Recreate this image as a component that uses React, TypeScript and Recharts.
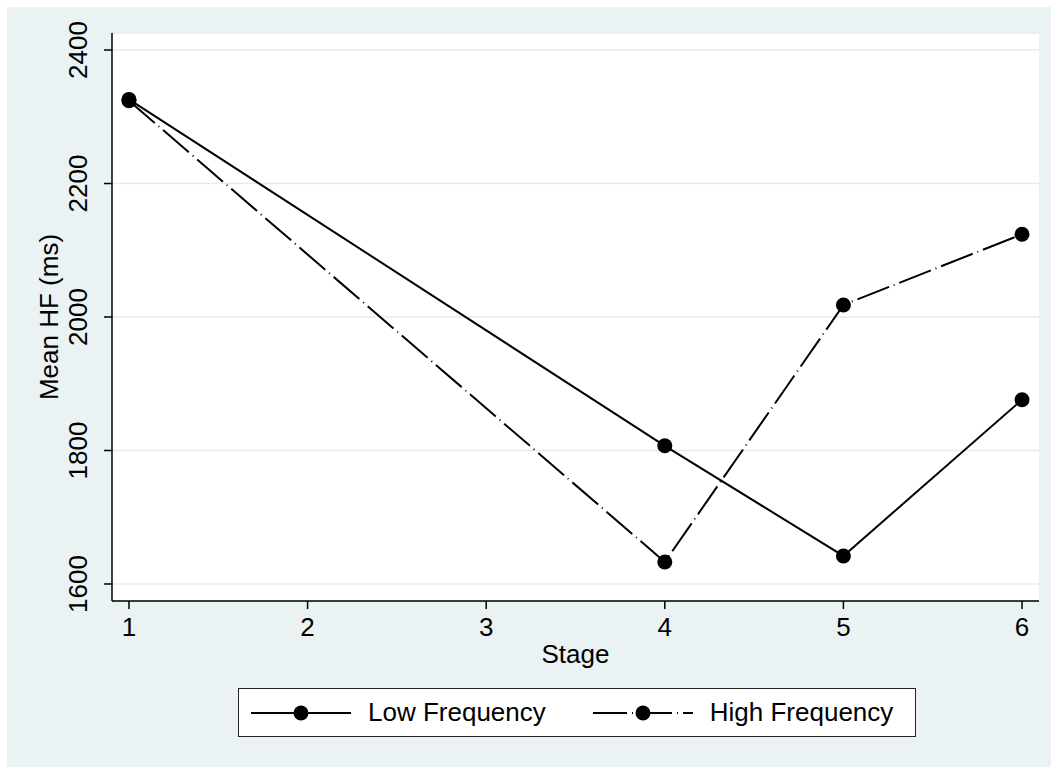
import { LineChart, Line, XAxis, YAxis, CartesianGrid } from "recharts";

const stages = [1, 4, 5, 6];
const lowFrequency = [2326, 1807, 1642, 1876];
const highFrequency = [2324, 1633, 2018, 2124];
const xTicks = [1, 2, 3, 4, 5, 6];
const yTicks = [1600, 1800, 2000, 2200, 2400];

const data = stages.map((stage, i) => ({
  stage,
  low: lowFrequency[i],
  high: highFrequency[i],
}));

const FONT = "'Liberation Sans', Arial, Helvetica, sans-serif";
const BG = "#EAF2F3";
const DASH = "34 5 1 5";

const YTick = ({ y, payload }: any) => (
  <text
    x={87}
    y={y}
    transform={`rotate(-90, 87, ${y})`}
    textAnchor="middle"
    fontSize={26}
    fontFamily={FONT}
    fill="#000"
  >
    {payload.value}
  </text>
);

const XTick = ({ x, payload }: any) => (
  <text
    x={x}
    y={636}
    textAnchor="middle"
    fontSize={26}
    fontFamily={FONT}
    fill="#000"
  >
    {payload.value}
  </text>
);

const Sample = ({ dash }: { dash?: string }) => (
  <svg width={102} height={20} style={{ display: "block" }}>
    <line
      x1={1}
      y1={10}
      x2={101}
      y2={10}
      stroke="#000"
      strokeWidth={2}
      strokeDasharray={dash}
    />
    <circle cx={51} cy={10} r={7.5} fill="#000" />
  </svg>
);

export default function App() {
  return (
    <div
      style={{
        position: "absolute",
        left: 0,
        top: 0,
        width: 1051,
        height: 767,
        background: "#fff",
        fontFamily: FONT,
      }}
    >
      <div
        style={{
          position: "absolute",
          left: 7,
          top: 7,
          width: 1044,
          height: 760,
          background: BG,
        }}
      />
      <div
        style={{
          position: "absolute",
          left: 112,
          top: 33,
          width: 927,
          height: 568,
          background: "#fff",
        }}
      />
      <div style={{ position: "absolute", left: 0, top: 0 }}>
        <LineChart
          width={1051}
          height={767}
          data={data}
          margin={{ top: 33, right: 12, left: 0, bottom: 96 }}
        >
          <CartesianGrid
            vertical={false}
            stroke="#E2ECEE"
            strokeWidth={1.5}
          />
          <XAxis
            dataKey="stage"
            type="number"
            domain={[0.905, 6.095]}
            ticks={xTicks}
            tick={<XTick />}
            tickSize={8}
            height={70}
            stroke="#000"
            axisLine={{ stroke: "#000", strokeWidth: 1.5 }}
            tickLine={{ stroke: "#000", strokeWidth: 1.5 }}
            label={{
              content: () => (
                <text
                  x={575.5}
                  y={663}
                  textAnchor="middle"
                  fontSize={26}
                  fontFamily={FONT}
                  fill="#000"
                >
                  Stage
                </text>
              ),
            }}
          />
          <YAxis
            type="number"
            domain={[1574.5, 2425.5]}
            ticks={yTicks}
            tick={<YTick />}
            tickSize={8}
            width={112}
            stroke="#000"
            axisLine={{ stroke: "#000", strokeWidth: 1.5 }}
            tickLine={{ stroke: "#000", strokeWidth: 1.5 }}
            label={{
              content: () => (
                <text
                  x={58}
                  y={317}
                  transform="rotate(-90, 58, 317)"
                  textAnchor="middle"
                  fontSize={26}
                  fontFamily={FONT}
                  fill="#000"
                >
                  Mean HF (ms)
                </text>
              ),
            }}
          />
          <Line
            type="linear"
            dataKey="low"
            stroke="#000"
            strokeWidth={2}
            dot={{ r: 7.5, fill: "#000", stroke: "none" }}
            isAnimationActive={false}
          />
          <Line
            type="linear"
            dataKey="high"
            stroke="#000"
            strokeWidth={2}
            strokeDasharray={DASH}
            dot={{ r: 7.5, fill: "#000", stroke: "none", strokeDasharray: "" }}
            isAnimationActive={false}
          />
        </LineChart>
      </div>
      <div
        style={{
          position: "absolute",
          left: 238,
          top: 688,
          width: 676,
          height: 47,
          border: "1px solid #222",
          background: "#fff",
          display: "flex",
          alignItems: "center",
          fontSize: 26,
          color: "#000",
          boxSizing: "content-box",
        }}
      >
        <div style={{ marginLeft: 11 }}>
          <Sample />
        </div>
        <span style={{ marginLeft: 16 }}>Low Frequency</span>
        <div style={{ marginLeft: 46 }}>
          <Sample dash={DASH} />
        </div>
        <span style={{ marginLeft: 16 }}>High Frequency</span>
      </div>
    </div>
  );
}
